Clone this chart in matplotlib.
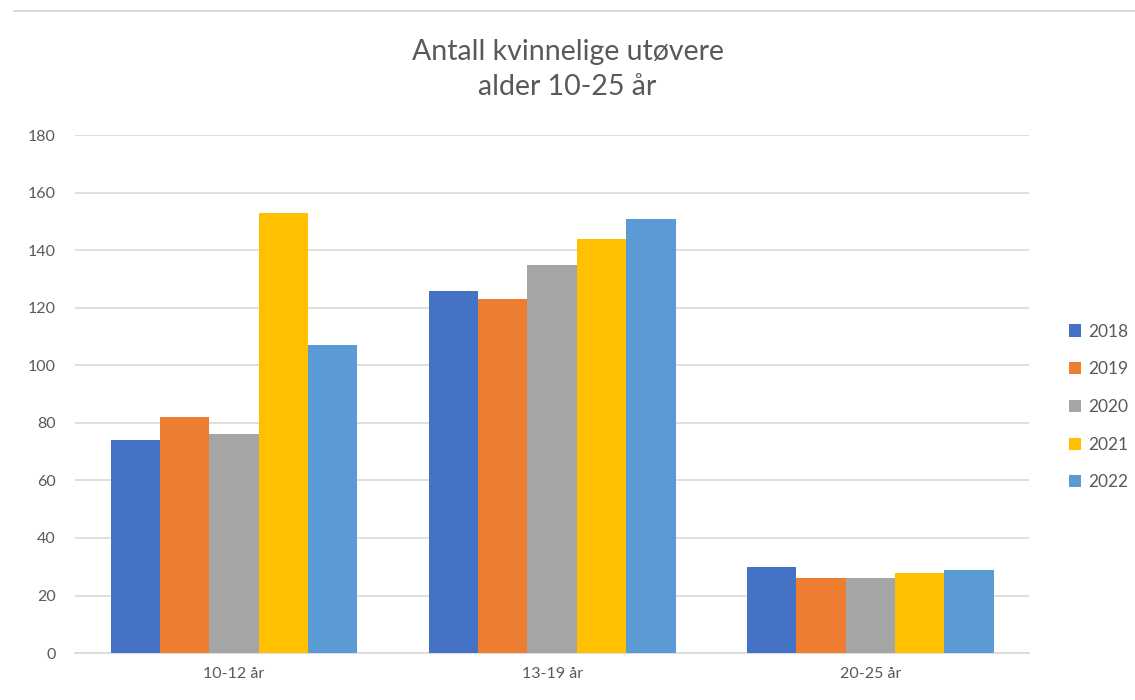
import numpy as np
import matplotlib.pyplot as plt

# Data
categories = ['10-12 år', '13-19 år', '20-25 år']
years = ['2018', '2019', '2020', '2021', '2022']
v2018 = [74, 126, 30]
v2019 = [82, 123, 26]
v2020 = [76, 135, 26]
v2021 = [153, 144, 28]
v2022 = [107, 151, 29]
series = [v2018, v2019, v2020, v2021, v2022]
colors = ['#4472C4', '#ED7D31', '#A5A5A5', '#FFC000', '#5B9BD5']

plt.rcParams['font.family'] = ['Lato', 'DejaVu Sans']
txt = '#595959'

fig = plt.figure(figsize=(11.35, 7), dpi=100)
ax = fig.add_axes([0.066, 0.067, 0.841, 0.74])

x = np.arange(len(categories))
w = 0.776 / len(years)
for i, (vals, c) in enumerate(zip(series, colors)):
    ax.bar(x + (i - 2) * w, vals, width=w, color=c, label=years[i], zorder=3)

ax.set_xlim(-0.5, 2.5)
ax.set_ylim(0, 180)
ax.set_yticks(range(0, 181, 20))
ax.set_xticks(x)
ax.set_xticklabels(categories)
ax.grid(axis='y', color='#D9D9D9', linewidth=1.2, zorder=0)
for s in ['top', 'right', 'left']:
    ax.spines[s].set_visible(False)
ax.spines['bottom'].set_color('#D9D9D9')
ax.spines['bottom'].set_linewidth(1.2)
ax.tick_params(length=0, labelsize=11.5, colors=txt, pad=10)
ax.tick_params(axis='y', pad=14)

fig.text(0.5, 0.901, 'Antall kvinnelige utøvere\nalder 10-25 år', ha='center', va='center',
         fontsize=20.5, color=txt, linespacing=1.45)

ax.legend(loc='center left', bbox_to_anchor=(1.025, 0.475), frameon=False,
          fontsize=12.5, labelcolor=txt, handlelength=0.7, handleheight=0.7,
          handletextpad=0.4, labelspacing=1.25)

# top border line of screenshot
fig.add_artist(plt.Line2D([0.012, 1.0], [0.984, 0.984], color='#D9D9D9', linewidth=1.5))

plt.savefig('out.png', dpi=100)
